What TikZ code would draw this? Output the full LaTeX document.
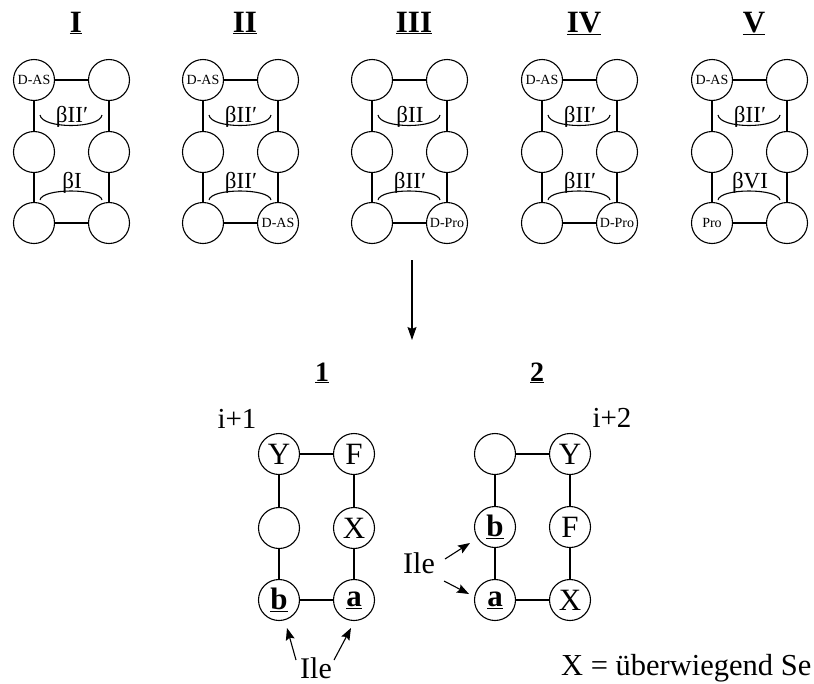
\documentclass[tikz,border=0pt]{standalone}
\usepackage{fontspec}
\setmainfont{Liberation Serif}
\usetikzlibrary{arrows.meta}
\tikzset{
  circ/.style={circle,draw,line width=1.1pt,minimum size=41pt,inner sep=0pt,font=\fontsize{14}{16}\selectfont},
  bcirc/.style={circ,font=\fontsize{31}{33}\selectfont},
  edge/.style={line width=1.1pt},
  arcline/.style={line width=1.1pt},
  blab/.style={anchor=base,inner sep=0pt,font=\fontsize{23}{26}\selectfont},
  ttl/.style={anchor=base,inner sep=0pt,font=\fontsize{31}{33}\selectfont\bfseries},
  ttlb/.style={anchor=base,inner sep=0pt,font=\fontsize{28}{30}\selectfont\bfseries},
  plain/.style={anchor=base,inner sep=0pt,font=\fontsize{29}{31}\selectfont},
  ptr/.style={line width=1.1pt,-{Stealth[length=12pt,width=9pt,inset=2pt]}},
}
\newcommand{\sheetdiag}[8]{%
  \node[circ] (#1tl) at (#2,80) {#3};
  \node[circ] (#1tr) at ({#2+75},80) {};
  \node[circ] (#1ml) at (#2,152) {};
  \node[circ] (#1mr) at ({#2+75},152) {};
  \node[circ] (#1bl) at (#2,223) {#4};
  \node[circ] (#1br) at ({#2+75},223) {#5};
  \draw[edge] (#1tl) -- (#1tr) (#1bl) -- (#1br) (#1tl) -- (#1ml) -- (#1bl) (#1tr) -- (#1mr) -- (#1br);
  \node[blab] (#1u) at ({#2+38},122) {#6};
  \node[blab] (#1d) at ({#2+38},188) {#7};
  \draw[arcline] ({#2+6},115) .. controls ({#2+8},129) and ({#2+66},129) .. ({#2+68},115);
  \draw[arcline] ({#2+6},200) .. controls ({#2+8},188) and ({#2+66},188) .. ({#2+68},200);
  \node[ttl] (#1t) at ({#2+42},32) {\underline{#8}};
}
\begin{document}
\begin{tikzpicture}[x=1pt,y=-1pt]
\useasboundingbox (0,0) rectangle (814,683);
\sheetdiag{a}{34}{D-AS}{}{}{βII′}{βI}{I}
\sheetdiag{b}{203}{D-AS}{}{D-AS}{βII′}{βII′}{II}
\sheetdiag{c}{372}{}{}{D-Pro}{βII}{βII′}{III}
\sheetdiag{d}{542}{D-AS}{}{D-Pro}{βII′}{βII′}{IV}
\sheetdiag{e}{712}{D-AS}{Pro}{}{βII′}{βVI}{V}

\coordinate (arrS) at (412,260);
\coordinate (arrE) at (412,340);
\draw[line width=1.1pt,-{Stealth[length=13pt,width=9pt,inset=2pt]}] (arrS) -- (arrE);

% diagram 1
\node[ttlb] (t1) at (322,381) {\underline{1}};
\node[plain] (i1) at (237,428) {i+1};
\node[bcirc] (p1) at (279,454) {Y};
\node[bcirc] (p2) at (354,454) {F};
\node[bcirc] (p3) at (279,528) {};
\node[bcirc] (p4) at (354,528) {X};
\node[bcirc] (p5) at (279,600) {\underline{\textbf{b}}};
\node[bcirc] (p6) at (354,600) {\underline{\textbf{a}}};
\draw[edge] (p1) -- (p2) (p5) -- (p6) (p1) -- (p3) -- (p5) (p2) -- (p4) -- (p6);
\node[plain,font=\fontsize{30}{32}\selectfont] (ile1) at (316,678) {Ile};
\coordinate (ile1a) at (296,660);
\coordinate (ile1at) at (287,628);
\coordinate (ile1b) at (334,660);
\coordinate (ile1bt) at (351,628);
\draw[ptr] (ile1a) -- (ile1at);
\draw[ptr] (ile1b) -- (ile1bt);

% diagram 2
\node[ttlb] (t2) at (537,381) {\underline{2}};
\node[plain] (i2) at (612,427) {i+2};
\node[bcirc] (q1) at (495,454) {};
\node[bcirc] (q2) at (570,454) {Y};
\node[bcirc] (q3) at (495,527) {\underline{\textbf{b}}};
\node[bcirc] (q4) at (570,527) {F};
\node[bcirc] (q5) at (495,600) {\underline{\textbf{a}}};
\node[bcirc] (q6) at (570,600) {X};
\draw[edge] (q1) -- (q2) (q5) -- (q6) (q1) -- (q3) -- (q5) (q2) -- (q4) -- (q6);
\node[plain,font=\fontsize{30}{32}\selectfont] (ile2) at (419,573) {Ile};
\coordinate (ile2a) at (445,559);
\coordinate (ile2at) at (470,543);
\coordinate (ile2b) at (444,581);
\coordinate (ile2bt) at (469,594);
\draw[ptr] (ile2a) -- (ile2at);
\draw[ptr] (ile2b) -- (ile2bt);

\node[anchor=base west,inner sep=0pt,font=\fontsize{30.5}{33}\selectfont] (leg) at (561,675) {X = überwiegend Se};
\end{tikzpicture}
\end{document}
